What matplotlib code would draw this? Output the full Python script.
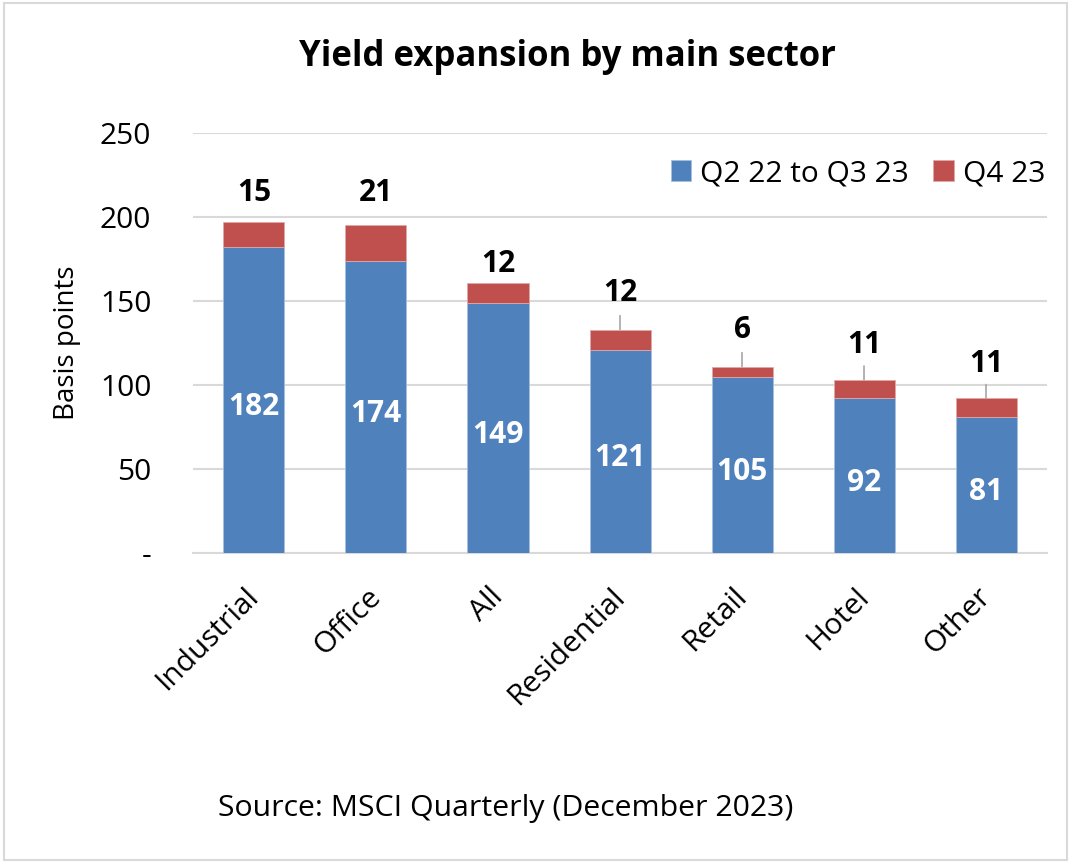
import matplotlib.pyplot as plt
from matplotlib.patches import Rectangle

plt.rcParams['font.family'] = ['Open Sans', 'DejaVu Sans']

# Renditeanstieg je Sektor (Basispunkte)
sektoren = ['Industrial', 'Office', 'All', 'Residential', 'Retail', 'Hotel', 'Other']
bis_q3 = [182, 174, 149, 121, 105, 92, 81]
q4 = [15, 21, 12, 12, 6, 11, 11]
y_ticks = [0, 50, 100, 150, 200, 250]
y_tick_labels = ['-', '50', '100', '150', '200', '250']

blau = '#4F81BD'
rot = '#C0504D'
grau = '#D9D9D9'
fs = 21.5

fig = plt.figure(figsize=(10.71, 8.63), dpi=100)
ax = fig.add_axes([0.1802, 0.3592, 0.7974, 0.4867])

x = range(len(sektoren))
ax.bar(x, bis_q3, width=0.5, color=blau, edgecolor='#A7C0E0', linewidth=0.6,
       label='Q2 22 to Q3 23', zorder=3)
ax.bar(x, q4, width=0.5, bottom=bis_q3, color=rot, edgecolor='#E0A9A8', linewidth=0.6,
       label='Q4 23', zorder=3)

# Werte in den blauen Balken
for i, a in enumerate(bis_q3):
    ax.annotate(str(a), xy=(i, a / 2), xytext=(0, -5), textcoords='offset points',
                ha='center', va='center', color='white', fontsize=fs, fontweight='bold',
                zorder=4)

# Q4-Werte oberhalb, teils mit Führungslinie
abstand = [21, 23, 13, 26, 26, 25, 25]   # Punkte über dem Balkenende
linie = [False, False, False, True, True, True, True]
for i, (a, b) in enumerate(zip(bis_q3, q4)):
    oben = a + b
    ax.annotate(str(b), xy=(i, oben), xytext=(0, abstand[i]), textcoords='offset points',
                ha='center', va='center', fontsize=fs, fontweight='bold', zorder=4)
    if linie[i]:
        ax.annotate('', xy=(i, oben), xytext=(0, 10), textcoords='offset points',
                    arrowprops=dict(arrowstyle='-', color='#A6A6A6', lw=1.2,
                                    shrinkA=0, shrinkB=0))

ax.set_xlim(-0.5, len(sektoren) - 0.5)
ax.set_ylim(0, 250)
ax.set_yticks(y_ticks)
ax.set_yticklabels(y_tick_labels, fontsize=fs)

# Kategorienbeschriftung schräg unter der Achse
ax.set_xticks(list(x))
ax.set_xticklabels([])
for i, name in enumerate(sektoren):
    ax.annotate(name, xy=(i, 0), xycoords=('data', 'axes fraction'), xytext=(-7, -21),
                textcoords='offset points', rotation=45, ha='right', va='top',
                rotation_mode='anchor', fontsize=fs)

ax.tick_params(axis='y', length=0, pad=30)
ax.tick_params(axis='x', length=0)
ax.yaxis.grid(True, color=grau, linewidth=1.5, zorder=0)
ax.set_axisbelow(True)
for s in ['top', 'right', 'left']:
    ax.spines[s].set_visible(False)
ax.spines['bottom'].set_color(grau)
ax.spines['bottom'].set_linewidth(1.5)

ax.set_ylabel('Basis points', fontsize=20, labelpad=14)

ax.legend(loc='center right', bbox_to_anchor=(1.012, 0.903), ncol=2, frameon=False,
          fontsize=fs, handlelength=0.7, handleheight=0.7, handletextpad=0.3,
          columnspacing=0.8, borderaxespad=0)

fig.text(567 / 1071, 1 - 57 / 863, 'Yield expansion by main sector', ha='center', va='center',
         fontsize=25, fontweight='bold')
fig.text(506 / 1071, 1 - 808 / 863, 'Source: MSCI Quarterly (December 2023)', ha='center',
         va='center', fontsize=21.8)

# Rahmen um die Grafik
fig.patches.append(Rectangle((0.004, 0.004), 0.992, 0.992, transform=fig.transFigure,
                             fill=False, edgecolor=grau, linewidth=1.5))

fig.savefig('out.png', dpi=100)
